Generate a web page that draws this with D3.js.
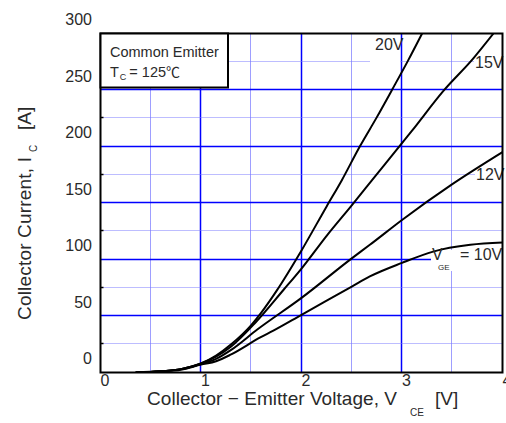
<!DOCTYPE html>
<html><head><meta charset="utf-8">
<script src="https://cdn.jsdelivr.net/npm/d3@7"></script>
<style>
html,body{margin:0;padding:0;background:#fff;}
text{font-family:"Liberation Sans",Arial,sans-serif;fill:#2a2a2a;}
</style></head>
<body>
<svg id="chart" width="506" height="423"></svg>
<script>
// ---- data ----
const xTicks = [0, 1, 2, 3, 4];
const yTicks = [0, 50, 100, 150, 200, 250, 300];
const seriesNames = ["20V", "15V", "12V", "10V"];
const vce20 = [0.35, 0.6, 0.8, 1.0, 1.15, 1.3, 1.5, 1.6, 1.75, 2.0, 2.25, 2.4, 2.58, 2.75, 2.9, 3.06, 3.2];
const ic20  = [0, 1, 3, 8, 15, 25, 42, 53, 72, 108, 147, 170, 200, 226, 250, 276, 300];
const vce15 = [0.35, 0.6, 0.8, 1.0, 1.15, 1.3, 1.54, 1.82, 2.0, 2.25, 2.5, 2.7, 3.1, 3.41, 3.71, 3.91];
const ic15  = [0, 1, 3, 8, 14, 23, 44, 73, 92, 121, 148, 170, 214, 249, 278, 300];
const vce12 = [0.35, 0.6, 0.8, 1.0, 1.15, 1.3, 1.56, 2.0, 2.5, 2.68, 3.0, 3.49, 4.0];
const ic12  = [0, 1, 3, 7.5, 12, 20, 38, 66, 101, 113, 135, 166, 195];
const vce10 = [0.35, 0.6, 0.8, 1.0, 1.15, 1.3, 1.59, 1.72, 2.0, 2.5, 2.68, 3.0, 3.31, 3.68, 4.0];
const ic10  = [0, 1, 2.5, 7, 10, 16, 31, 37, 51, 76, 85, 97, 107, 113, 115];

const series = [
  {name: seriesNames[0], xs: vce20, ys: ic20},
  {name: seriesNames[1], xs: vce15, ys: ic15},
  {name: seriesNames[2], xs: vce12, ys: ic12},
  {name: seriesNames[3], xs: vce10, ys: ic10}
];

const svg = d3.select("#chart");
const L = 100.5, R = 502.5, T = 33.5, B = 372.5;
const x = d3.scaleLinear().domain([0, 4]).range([L, R]);
const y = d3.scaleLinear().domain([0, 300]).range([B, T]);

svg.append("defs").append("clipPath").attr("id", "clip")
  .append("rect").attr("x", L).attr("y", T).attr("width", R - L).attr("height", B - T);

// grid
const g = svg.append("g");
d3.range(0.5, 4, 0.5).forEach(v => {
  const solid = Math.abs(v - Math.round(v)) < 1e-9;
  const px = Math.round(x(v)) - 0.5;
  g.append("line").attr("x1", px).attr("x2", px).attr("y1", T).attr("y2", B)
    .attr("stroke", solid ? "#0000ff" : "#3c3cff").attr("stroke-width", solid ? 1.5 : 1)
    .attr("stroke-dasharray", solid ? null : "1 1");
});
d3.range(25, 300, 25).forEach(v => {
  const solid = v % 50 === 0;
  const py = Math.round(y(v)) - 0.5;
  g.append("line").attr("x1", L).attr("x2", R).attr("y1", py).attr("y2", py)
    .attr("stroke", solid ? "#0000ff" : "#7a7aff").attr("stroke-width", solid ? 1.5 : 1)
    .attr("stroke-dasharray", solid ? null : "1 1");
  if (!solid) g.append("line").attr("x1", L).attr("x2", L + 3).attr("y1", py).attr("y2", py)
    .attr("stroke", "#000").attr("stroke-width", 1.5);
});

// white backgrounds behind curve labels
const bg = svg.append("g").attr("fill", "#fff");
bg.append("rect").attr("x", 370).attr("y", 35).attr("width", 30).attr("height", 29);
bg.append("rect").attr("x", 474).attr("y", 55).attr("width", 28).attr("height", 15);
bg.append("rect").attr("x", 475).attr("y", 165).attr("width", 27).attr("height", 17);
bg.append("rect").attr("x", 431).attr("y", 250).attr("width", 71).attr("height", 21);

// curves
const line = d3.line().x(d => x(d[0])).y(d => y(d[1])).curve(d3.curveMonotoneX);
svg.append("g").attr("clip-path", "url(#clip)").selectAll("path").data(series).join("path")
  .attr("d", s => line(s.xs.map((v, i) => [v, s.ys[i]])))
  .attr("fill", "none").attr("stroke", "#000").attr("stroke-width", 2);

// curve labels
svg.append("text").attr("x", 375).attr("y", 50).attr("font-size", 16).text("20V");
svg.append("text").attr("x", 475).attr("y", 68).attr("font-size", 16).text("15V");
svg.append("text").attr("x", 476).attr("y", 180).attr("font-size", 16).text("12V");
const vge = svg.append("g");
vge.append("text").attr("x", 432).attr("y", 260).attr("font-size", 16).text("V");
vge.append("text").attr("x", 438).attr("y", 270).attr("font-size", 8).text("GE");
vge.append("text").attr("x", 460).attr("y", 260).attr("font-size", 16).text("= 10V");

// axes
const ya = svg.append("g").attr("transform", `translate(${L},0)`)
  .call(d3.axisLeft(y).tickValues(yTicks).tickFormat(d3.format("d")).tickSize(0).tickPadding(8.5));
ya.select(".domain").remove();
ya.selectAll("text").attr("dy", -9).attr("font-size", 16).attr("font-family", null).style("fill", "#2a2a2a");

const xa = svg.append("g").attr("transform", `translate(0,${B})`)
  .call(d3.axisBottom(x).tickValues(xTicks).tickFormat(d3.format("d")).tickSize(0).tickPadding(2));
xa.select(".domain").remove();
xa.selectAll("text").attr("x", 4).attr("font-size", 16).attr("font-family", null).style("fill", "#2a2a2a");

// frame
svg.append("rect").attr("x", L).attr("y", T).attr("width", R - L).attr("height", B - T)
  .attr("fill", "none").attr("stroke", "#000").attr("stroke-width", 2);

// legend box
svg.append("rect").attr("x", L).attr("y", T).attr("width", 127.5).attr("height", 54)
  .attr("fill", "#fff").attr("stroke", "#000").attr("stroke-width", 2);
svg.append("text").attr("x", 110).attr("y", 56.5).attr("font-size", 14.5).text("Common Emitter");
const tc = svg.append("text").attr("x", 110).attr("y", 76.5).attr("font-size", 14.5);
tc.append("tspan").text("T");
tc.append("tspan").attr("font-size", 9).attr("dx", 1).attr("dy", 3).text("C");
tc.append("tspan").attr("dx", 3).attr("dy", -3).text("= 125");
tc.append("tspan").attr("font-family", "'Noto Sans CJK SC'").attr("font-size", 14).text("℃");

// axis titles
svg.append("text").attr("x", 147).attr("y", 405).attr("font-size", 19)
  .attr("textLength", 250).attr("lengthAdjust", "spacing").text("Collector − Emitter Voltage, V");
svg.append("text").attr("x", 410).attr("y", 416).attr("font-size", 10).text("CE");
svg.append("text").attr("x", 435).attr("y", 405).attr("font-size", 19).text("[V]");

const yt = svg.append("g").attr("transform", "translate(31,320) rotate(-90)");
yt.append("text").attr("x", 0).attr("y", 0).attr("font-size", 19)
  .attr("textLength", 163).attr("lengthAdjust", "spacing").text("Collector Current, I");
yt.append("text").attr("x", 168).attr("y", 6).attr("font-size", 10).text("C");
yt.append("text").attr("x", 190).attr("y", 0).attr("font-size", 19).text("[A]");
</script>
</body></html>
